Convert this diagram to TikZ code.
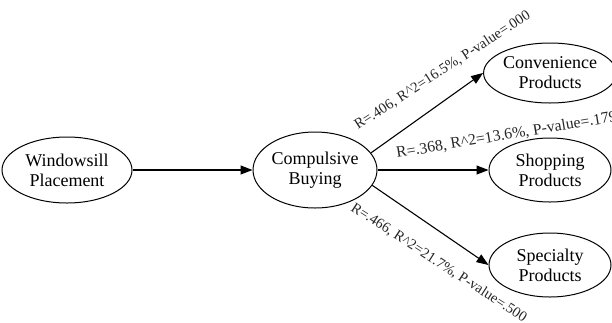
\documentclass[tikz,border=0pt]{standalone}
\usepackage{fontspec}
\setmainfont{Liberation Serif}
\usetikzlibrary{shapes.geometric,arrows.meta}
\begin{document}
\begin{tikzpicture}[x=1pt,y=-1pt,
  oval/.style={draw,ellipse,line width=1pt,inner sep=0pt,align=center,font=\fontsize{18}{20}\selectfont},
  conn/.style={line width=1.1pt,-{Triangle[length=12pt,width=9pt]}},
  lab/.style={font=\fontsize{14.6}{17}\selectfont,text=black!85,inner sep=0pt}]
\useasboundingbox (0,0) rectangle (612,322);
\node[oval,minimum width=130pt,minimum height=66pt] (W) at (67,170) {Windowsill\\Placement};
\node[oval,minimum width=124pt,minimum height=76pt] (C) at (315,170) {Compulsive\\Buying};
\node[oval,minimum width=122pt,minimum height=60pt] (CP) at (550,73) {Convenience\\Products};
\node[oval,minimum width=122pt,minimum height=64pt] (SP) at (550,170) {Shopping\\Products};
\node[oval,minimum width=122pt,minimum height=64pt] (SY) at (550,265) {Specialty\\Products};
\draw[conn] (W.east) -- (C.west);
\draw[conn] (C.17) -- (CP.west);
\draw[conn] (C.east) -- (SP.west);
\draw[conn] (C.-15) -- (SY.west);
\node[lab,anchor=base west,rotate=33] (L1) at (358,130) {R=.406, R\^{}2=16.5\%, P-value=.000};
\node[lab,anchor=base west,rotate=9.5,font=\fontsize{15.8}{17}\selectfont] (L2) at (397,158) {R=.368, R\^{}2=13.6\%, P-value=.179};
\node[lab,anchor=base west,rotate=-33] (L3) at (350,210) {R=.466, R\^{}2=21.7\%, P-value=.500};
\end{tikzpicture}
\end{document}
